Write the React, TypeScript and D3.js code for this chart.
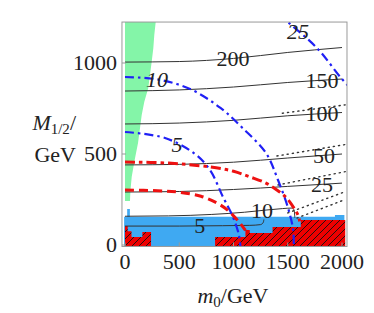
import React, { useEffect, useRef } from "react";
import * as d3 from "d3";

// axis ticks
const m0Ticks = [0, 500, 1000, 1500, 2000];
const m12Ticks = [0, 500, 1000];

// black contours, points are [m0, M1/2] in GeV
const c200 = [[0, 1005], [500, 1008], [1000, 1025], [1500, 1058], [2000, 1085]];
const c150 = [[0, 846], [500, 852], [1000, 868], [1500, 893], [2000, 912]];
const c100 = [[0, 665], [500, 670], [1000, 685], [1500, 710], [2000, 728]];
const c50 = [[0, 440], [500, 443], [1000, 455], [1500, 478], [2000, 500]];
const c25 = [[0, 291], [500, 294], [1000, 305], [1500, 322], [2000, 340]];
const c10 = [[0, 158], [400, 160], [800, 168], [1100, 180], [1300, 192], [1450, 200], [1540, 203], [1560, 190], [1565, 150]];
const c5 = [[0, 104], [500, 104], [900, 106], [1150, 108], [1250, 112], [1275, 125], [1280, 140]];

// dotted continuations
const dot1 = [[1400, 489], [2030, 552]];
const dot2 = [[1410, 330], [2030, 403]];
const dot3 = [[1500, 176], [2030, 293]];
const dot4 = [[1585, 148], [2030, 250]];
const dot5 = [[1450, 724], [2030, 770]];

// blue dash-dot contours
const b5 = [[0, 621], [369, 588], [645, 500], [783, 412], [903, 264], [995, 154], [1050, 55], [1065, -20]];
const b10 = [[0, 923], [300, 910], [600, 857], [880, 753], [1083, 643], [1300, 505], [1410, 357], [1500, 209], [1550, 82], [1555, -20]];
const b25 = [[1420, 1270], [1502, 1225], [1770, 1082], [1991, 918], [2080, 860]];

// red curves
const rDashDot = [[0, 456], [400, 450], [783, 429], [1000, 405], [1152, 374], [1300, 340], [1400, 302], [1470, 270], [1520, 236], [1560, 200], [1594, 165], [1610, 130]];
const rDash = [[0, 302], [300, 298], [500, 290], [700, 268], [850, 230], [950, 190], [1000, 160], [1060, 120], [1110, 80]];

// regions
const greenEdge = [[0, 1240], [285, 1240], [283, 1225], [270, 1154], [261, 1081], [246, 1007], [230, 934], [214, 861], [178, 787], [154, 714], [140, 650], [120, 560], [90, 470], [62, 375], [50, 300], [46, 242], [0, 242]];
const blueArea = [[-8, -10], [-8, 155], [20, 155], [20, 198], [45, 198], [45, 155], [1935, 155], [1935, 165], [2022, 165], [2022, -10]];
const redLeft = [[0, -10], [0, 104], [25, 104], [25, 75], [60, 75], [60, 44], [160, 44], [160, 71], [240, 71], [240, -10]];
const redRight = [[830, -10], [830, 44], [1110, 44], [1110, 82], [1150, 82], [1150, 66], [1360, 66], [1360, 99], [1620, 99], [1620, 137], [2030, 137], [2030, -10]];

const blackLabels = [
  { text: "200", at: 995, pts: c200 },
  { text: "150", at: 1815, pts: c150 },
  { text: "100", at: 1815, pts: c100 },
  { text: "50", at: 1835, pts: c50 },
  { text: "25", at: 1815, pts: c25 },
  { text: "10", at: 1263, pts: c10 },
  { text: "5", at: 690, pts: c5 },
];
const blueLabels = [
  { text: "10", at: 295, pts: b10 },
  { text: "5", at: 480, pts: b5 },
  { text: "25", at: 1595, pts: b25 },
];

function yAt(pts, m0) {
  for (let i = 1; i < pts.length; i++) {
    const [x0, y0] = pts[i - 1];
    const [x1, y1] = pts[i];
    if (m0 >= Math.min(x0, x1) && m0 <= Math.max(x0, x1)) {
      return y0 + ((m0 - x0) / (x1 - x0)) * (y1 - y0);
    }
  }
  return pts[0][1];
}

export default function App() {
  const ref = useRef(null);

  useEffect(() => {
    const svg = d3.select(ref.current);
    svg.selectAll("*").remove();

    const x = d3.scaleLinear().domain([0, 2000]).range([125, 342]);
    const y = d3.scaleLinear().domain([0, 1000]).range([245, 63]);
    const left = x(-28), right = x(2046), top = y(1225), bottom = y(-8);
    const font = "'Liberation Serif', 'Times New Roman', serif";

    const line = d3.line().x((d) => x(d[0])).y((d) => y(d[1]));

    const defs = svg.append("defs");
    defs.append("clipPath").attr("id", "plot")
      .append("rect").attr("x", left).attr("y", top)
      .attr("width", right - left).attr("height", bottom - top);
    const pat = defs.append("pattern").attr("id", "hatch")
      .attr("patternUnits", "userSpaceOnUse").attr("width", 7).attr("height", 7);
    pat.append("rect").attr("width", 7).attr("height", 7).attr("fill", "#ee0000");
    pat.append("path").attr("d", "M0,7 L7,0 M-2,2 L2,-2 M5,9 L9,5")
      .attr("stroke", "#111").attr("stroke-width", 0.9);

    const g = svg.append("g").attr("clip-path", "url(#plot)");

    // regions
    g.append("path").attr("d", line(greenEdge) + "Z").attr("fill", "#84f5a8");
    g.append("path").attr("d", line(blueArea) + "Z").attr("fill", "#3fa9f2");
    [redLeft, redRight].forEach((r) => {
      g.append("path").attr("d", line(r) + "Z").attr("fill", "url(#hatch)");
    });

    // black contours
    [c200, c150, c100, c50, c25, c10, c5].forEach((c) => {
      g.append("path").attr("d", line.curve(d3.curveMonotoneX)(c))
        .attr("fill", "none").attr("stroke", "#333").attr("stroke-width", 1);
    });
    line.curve(d3.curveLinear);
    [dot1, dot2, dot3, dot4, dot5].forEach((c) => {
      g.append("path").attr("d", line(c))
        .attr("fill", "none").attr("stroke", "#333").attr("stroke-width", 1.4)
        .attr("stroke-dasharray", "1.2,4").attr("stroke-linecap", "round");
    });

    // dash-dot curves
    const smooth = d3.line().x((d) => x(d[0])).y((d) => y(d[1])).curve(d3.curveCatmullRom);
    [b5, b10, b25].forEach((c) => {
      g.append("path").attr("d", smooth(c)).attr("fill", "none")
        .attr("stroke", "#2020f5").attr("stroke-width", 2.2)
        .attr("stroke-dasharray", "9,4,2.5,4");
    });
    g.append("path").attr("d", smooth(rDashDot)).attr("fill", "none")
      .attr("stroke", "#ee1111").attr("stroke-width", 3)
      .attr("stroke-dasharray", "10,4,3.5,4");
    g.append("path").attr("d", smooth(rDash)).attr("fill", "none")
      .attr("stroke", "#ee1111").attr("stroke-width", 3)
      .attr("stroke-dasharray", "9,5");

    // contour labels
    blackLabels.forEach((l) => {
      svg.append("text").attr("x", x(l.at)).attr("y", y(yAt(l.pts, l.at)))
        .attr("dy", "0.34em").attr("text-anchor", "middle")
        .attr("font-family", font).attr("font-size", 22).attr("fill", "#222")
        .text(l.text);
    });
    blueLabels.forEach((l) => {
      svg.append("text").attr("x", x(l.at)).attr("y", y(yAt(l.pts, l.at)))
        .attr("dy", "0.34em").attr("text-anchor", "middle")
        .attr("font-family", font).attr("font-size", 22).attr("font-style", "italic")
        .attr("fill", "#222").text(l.text);
    });

    // frame and ticks
    svg.append("rect").attr("x", left).attr("y", top)
      .attr("width", right - left).attr("height", bottom - top)
      .attr("fill", "none").attr("stroke", "#999").attr("stroke-width", 1);
    m0Ticks.forEach((t) => {
      svg.append("line").attr("x1", x(t)).attr("x2", x(t))
        .attr("y1", bottom).attr("y2", bottom - 4).attr("stroke", "#999");
      svg.append("text").attr("x", x(t)).attr("y", 269)
        .attr("text-anchor", "middle").attr("font-family", font)
        .attr("font-size", 22).attr("fill", "#222").text(t);
    });
    m12Ticks.forEach((t) => {
      svg.append("line").attr("x1", left).attr("x2", left + 4)
        .attr("y1", y(t)).attr("y2", y(t)).attr("stroke", "#999");
      svg.append("text").attr("x", 117).attr("y", y(t))
        .attr("dy", "0.34em").attr("text-anchor", "end").attr("font-family", font)
        .attr("font-size", 22).attr("fill", "#222").text(t);
    });

    // axis titles
    const xt = svg.append("text").attr("x", 233).attr("y", 303)
      .attr("text-anchor", "middle").attr("font-family", font)
      .attr("font-size", 22).attr("fill", "#222");
    xt.append("tspan").attr("font-style", "italic").text("m");
    xt.append("tspan").attr("font-size", 15).attr("dy", 4).text("0");
    xt.append("tspan").attr("dy", -4).text("/GeV");

    const yt = svg.append("text").attr("x", 76).attr("y", 130)
      .attr("text-anchor", "end").attr("font-family", font)
      .attr("font-size", 22).attr("fill", "#222");
    yt.append("tspan").attr("font-style", "italic").text("M");
    yt.append("tspan").attr("font-size", 15).attr("dy", 4).text("1/2");
    yt.append("tspan").attr("dy", -4).text("/");
    svg.append("text").attr("x", 76).attr("y", 162)
      .attr("text-anchor", "end").attr("font-family", font)
      .attr("font-size", 22).attr("fill", "#222").text("GeV");
  }, []);

  return (
    <svg ref={ref} width={374} height={313}
      style={{ position: "absolute", left: 0, top: 0, background: "#fff" }} />
  );
}
